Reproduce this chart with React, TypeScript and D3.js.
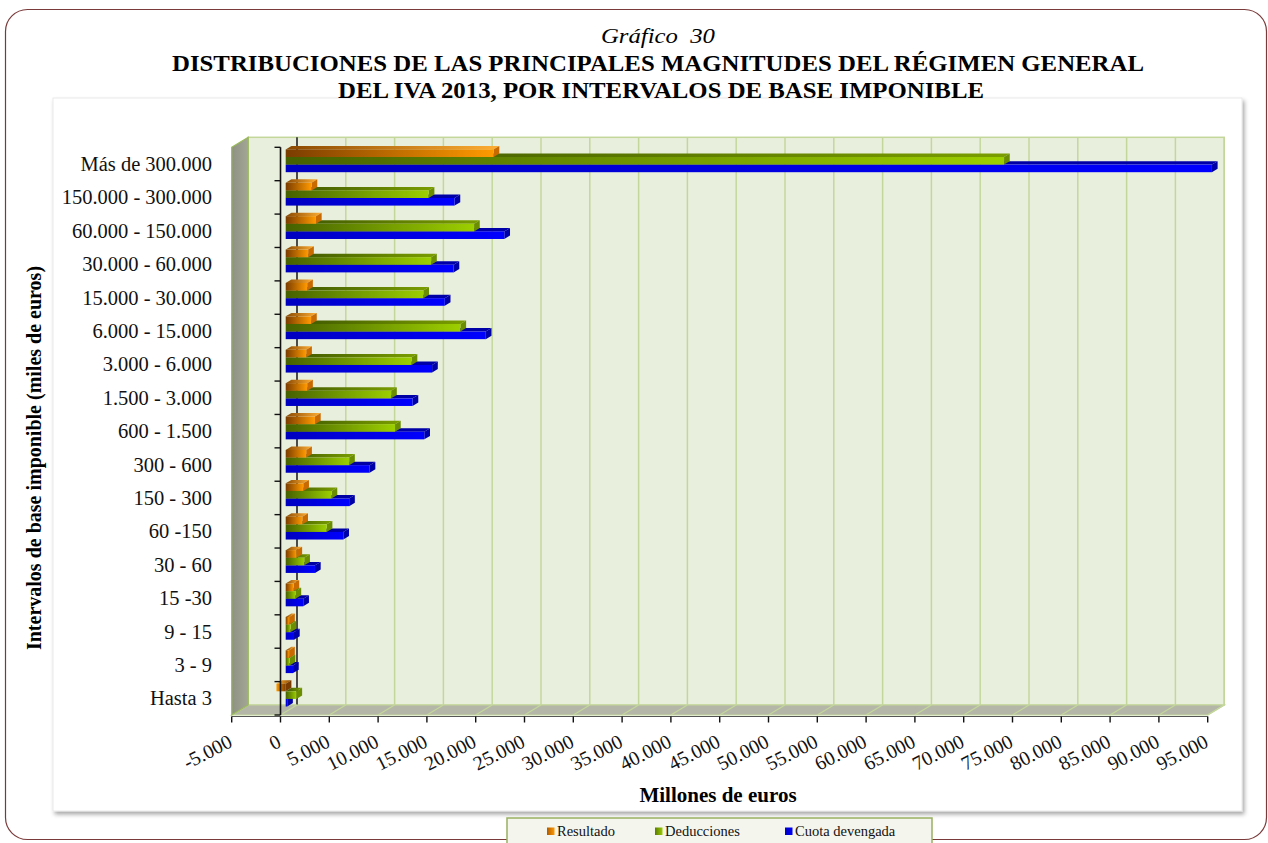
import React from "react";
import * as d3 from "d3";

// ---------- DATA ----------
const categories = [
  "Hasta 3", "3 - 9", "9 - 15", "15 -30", "30 - 60", "60 -150", "150 - 300",
  "300 - 600", "600 - 1.500", "1.500 - 3.000", "3.000 - 6.000", "6.000 - 15.000",
  "15.000 - 30.000", "30.000 - 60.000", "60.000 - 150.000", "150.000 - 300.000",
  "Más de 300.000",
];
const resultado = [-950, 350, 350, 800, 1100, 1700, 1800, 2100, 3000, 2200, 2100, 2600, 2200, 2300, 3100, 2650, 21300];
const deducciones = [1100, 400, 500, 1000, 1900, 4200, 4700, 6500, 11200, 10800, 12900, 17900, 14100, 14900, 19300, 14650, 73600];
const cuotaDevengada = [150, 750, 850, 1800, 3000, 5900, 6500, 8600, 14200, 13000, 15000, 20500, 16300, 17200, 22400, 17300, 94900];
const seriesNames = ["Resultado", "Deducciones", "Cuota devengada"];
const xTickValues = [-5000, 0, 5000, 10000, 15000, 20000, 25000, 30000, 35000, 40000, 45000, 50000, 55000, 60000, 65000, 70000, 75000, 80000, 85000, 90000, 95000];

const titleLine0 = "Gráfico  30";
const titleLine1 = "DISTRIBUCIONES DE LAS PRINCIPALES MAGNITUDES DEL RÉGIMEN GENERAL";
const titleLine2 = "DEL IVA 2013, POR INTERVALOS DE BASE IMPONIBLE";
const yTitle = "Intervalos de base imponible (miles de euros)";
const xTitle = "Millones de euros";

// ---------- LAYOUT ----------
const W = 1268, H = 843;
const DX = 16.5, DY = -10; // wall depth
const BOX = 5.2, BOY = -3.2; // bar front plane offset
const BDX = 5.7, BDY = -3.45; // bar thickness
const Y_TOP = 147.3, Y_BOT = 715;
const BAR_H = 7.6;
const FONT = "'Liberation Serif', 'Times New Roman', serif";

const locale = d3.formatLocale({ decimal: ",", thousands: ".", grouping: [3], currency: ["", " €"], minus: "-" });
const fmt = locale.format(",");

const x = d3.scaleLinear().domain([-5000, 95000]).range([231.7, 1207.7]);
const y = d3.scaleBand<string>().domain([...categories].reverse()).range([Y_TOP, Y_BOT]);

const seriesData = [resultado, deducciones, cuotaDevengada];
const seriesStyle = [
  { front: ["#7a3c00", "#ff9a00"], top: ["#8a4800", "#ffae33"], cap: "#c86a00", legend: "url(#lgO)" },
  { front: ["#456000", "#9ccf00"], top: ["#3c5400", "#7a9e00"], cap: "#6a8e00", legend: "url(#lgG)" },
  { front: ["#0000c0", "#0000ff"], top: ["#000088", "#0000aa"], cap: "#0000a8", legend: "url(#lgB)" },
];

function Bar({ v, yTop, s }: { v: number; yTop: number; s: number }) {
  const xa = x(0) + BOX;
  const xb = x(v) + BOX;
  const left = Math.min(xa, xb), right = Math.max(xa, xb);
  const yt = yTop + BOY;
  const neg = v < 0 ? "n" : "p";
  const st = seriesStyle[s];
  const topPts = [[left, yt], [right, yt], [right + BDX, yt + BDY], [left + BDX, yt + BDY]];
  const capPts = [[right, yt], [right + BDX, yt + BDY], [right + BDX, yt + BAR_H + BDY], [right, yt + BAR_H]];
  return (
    <g>
      <polygon points={topPts.map((p) => p.join(",")).join(" ")} fill={`url(#t${s}${neg})`} />
      <polygon points={capPts.map((p) => p.join(",")).join(" ")} fill={v < 0 ? st.front[0] : st.cap} />
      <rect x={left} y={yt} width={Math.max(0.5, right - left)} height={BAR_H} fill={`url(#f${s}${neg})`} />
    </g>
  );
}

export default function App() {
  const backX = (v: number) => x(v) + DX;
  const bTop = Y_TOP + DY, bBot = Y_BOT + DY;
  return (
    <svg width={W} height={H} style={{ position: "absolute", left: 0, top: 0, background: "#fff" }} fontFamily={FONT}>
      <defs>
        {seriesStyle.map((st, i) => (
          <React.Fragment key={i}>
            <linearGradient id={`f${i}p`} x1="0" x2="1" y1="0" y2="0">
              <stop offset="0" stopColor={st.front[0]} />
              <stop offset="1" stopColor={st.front[1]} />
            </linearGradient>
            <linearGradient id={`f${i}n`} x1="1" x2="0" y1="0" y2="0">
              <stop offset="0" stopColor={st.front[0]} />
              <stop offset="1" stopColor={st.front[1]} />
            </linearGradient>
            <linearGradient id={`t${i}p`} x1="0" x2="1" y1="0" y2="0">
              <stop offset="0" stopColor={st.top[0]} />
              <stop offset="1" stopColor={st.top[1]} />
            </linearGradient>
            <linearGradient id={`t${i}n`} x1="1" x2="0" y1="0" y2="0">
              <stop offset="0" stopColor={st.top[0]} />
              <stop offset="1" stopColor={st.top[1]} />
            </linearGradient>
          </React.Fragment>
        ))}
        <linearGradient id="lgO" x1="0" x2="1"><stop offset="0" stopColor="#b05a00" /><stop offset="1" stopColor="#ff9900" /></linearGradient>
        <linearGradient id="lgG" x1="0" x2="1"><stop offset="0" stopColor="#5a7a00" /><stop offset="1" stopColor="#99cc00" /></linearGradient>
        <linearGradient id="lgB" x1="0" x2="1"><stop offset="0" stopColor="#0000c0" /><stop offset="1" stopColor="#0000ff" /></linearGradient>
        <linearGradient id="wallL" x1="0" x2="1"><stop offset="0" stopColor="#8e9282" /><stop offset="1" stopColor="#a3a695" /></linearGradient>
        <filter id="shadow" x="-5%" y="-5%" width="110%" height="110%">
          <feDropShadow dx="2" dy="3" stdDeviation="2" floodColor="#000" floodOpacity="0.35" />
        </filter>
      </defs>

      {/* outer frame */}
      <rect x={5.5} y={9.5} width={1261} height={830} rx={22} fill="#fff" stroke="#7a3a3a" strokeWidth={1.2} />

      {/* chart area */}
      <rect x={53} y={98} width={1189} height={713} fill="#fff" stroke="#e4e4e4" strokeWidth={0.8} filter="url(#shadow)" />

      {/* titles */}
      <text x={658} y={43} textAnchor="middle" fontSize={22} fontStyle="italic" xmlSpace="preserve" style={{ whiteSpace: "pre" }} textLength={114} lengthAdjust="spacingAndGlyphs">{titleLine0}</text>
      <text x={658} y={71} textAnchor="middle" fontSize={23} fontWeight="bold" textLength={972} lengthAdjust="spacingAndGlyphs">{titleLine1}</text>
      <text x={661} y={98} textAnchor="middle" fontSize={23} fontWeight="bold" textLength={646} lengthAdjust="spacingAndGlyphs">{titleLine2}</text>

      {/* back wall */}
      <rect x={backX(-5000)} y={bTop} width={backX(95000) - backX(-5000)} height={bBot - bTop} fill="#e9efdd" stroke="#c4d79b" strokeWidth={1.5} />
      {xTickValues.map((t) => (
        <line key={"g" + t} x1={backX(t)} x2={backX(t)} y1={bTop} y2={bBot} stroke={t === 0 ? "#222" : "#c4d79b"} strokeWidth={t === 0 ? 1.6 : 1.5} />
      ))}
      {/* floor */}
      <polygon
        points={[[x(-5000), Y_BOT], [x(95000), Y_BOT], [backX(95000), bBot], [backX(-5000), bBot]].map((p) => p.join(",")).join(" ")}
        fill="#b4b7a7" stroke="#c4d79b" strokeWidth={1.2}
      />
      {xTickValues.map((t) => (
        <line key={"fl" + t} x1={x(t)} y1={Y_BOT} x2={backX(t)} y2={bBot} stroke="#c4d79b" strokeWidth={1.2} />
      ))}
      {/* left wall */}
      <polygon
        points={[[x(-5000), Y_TOP], [backX(-5000), bTop], [backX(-5000), bBot], [x(-5000), Y_BOT]].map((p) => p.join(",")).join(" ")}
        fill="url(#wallL)" stroke="#9bbb59" strokeWidth={1.2}
      />
      <line x1={x(-5000)} x2={x(95000)} y1={Y_BOT + 1.5} y2={Y_BOT + 1.5} stroke="#555" strokeWidth={1} />

      {/* bars */}
      {categories.map((c, ci) => {
        const center = (y(c) as number) + y.bandwidth() / 2;
        const start = center - (BAR_H * 3) / 2;
        return (
          <g key={c}>
            {[2, 1, 0].map((s) => (
              <Bar key={s} v={seriesData[s][ci]} yTop={start + s * BAR_H} s={s} />
            ))}
          </g>
        );
      })}

      {/* vertical axis */}
      <line x1={x(0)} x2={x(0)} y1={Y_TOP} y2={Y_BOT} stroke="#111" strokeWidth={1.6} />
      {d3.range(categories.length + 1).map((i) => {
        const yy = Y_TOP + i * y.step();
        return <line key={"yt" + i} x1={x(0) - 6} x2={x(0)} y1={yy} y2={yy} stroke="#111" strokeWidth={1.4} />;
      })}
      {categories.map((c) => (
        <text key={"cl" + c} x={212} y={(y(c) as number) + y.bandwidth() / 2 + 7} textAnchor="end" fontSize={20.5} fill="#111">{c}</text>
      ))}

      {/* x axis ticks & labels */}
      {xTickValues.map((t) => (
        <g key={"xt" + t}>
          <line x1={x(t)} x2={x(t)} y1={Y_BOT + 1.5} y2={Y_BOT + 7.5} stroke="#111" strokeWidth={1.4} />
          <text transform={`translate(${x(t) + 2},${746}) rotate(-27)`} textAnchor="end" fontSize={20} fill="#111">{fmt(t)}</text>
        </g>
      ))}

      {/* axis titles */}
      <text transform="translate(41,458) rotate(-90)" textAnchor="middle" fontSize={20} fontWeight="bold">{yTitle}</text>
      <text x={718} y={802} textAnchor="middle" fontSize={21} fontWeight="bold">{xTitle}</text>

      {/* legend */}
      <rect x={507} y={818} width={425} height={40} fill="#f4f6ee" stroke="#98b060" strokeWidth={1.5} />
      {seriesNames.map((n, i) => {
        const lx = [547, 655, 785][i];
        return (
          <g key={n}>
            <rect x={lx} y={827.5} width={7.5} height={7.5} fill={seriesStyle[i].legend} />
            <text x={lx + 10} y={835.5} fontSize={14.5} fill="#111">{n}</text>
          </g>
        );
      })}
    </svg>
  );
}
